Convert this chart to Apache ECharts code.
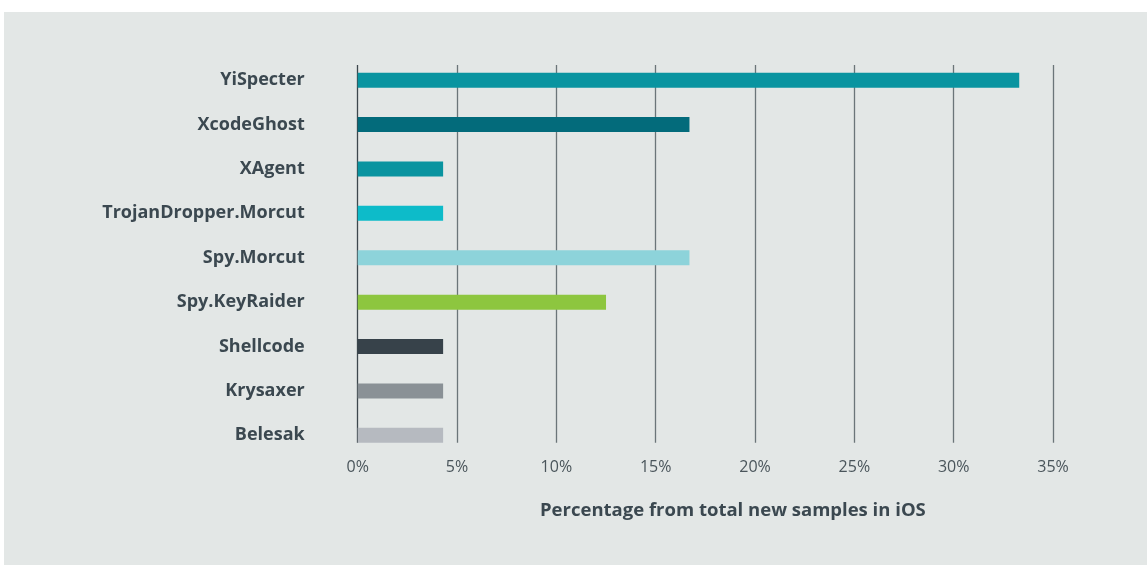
<!DOCTYPE html>
<html>
<head>
<meta charset="utf-8">
<script src="https://cdn.jsdelivr.net/npm/echarts@6/dist/echarts.min.js"></script>
<style>
html,body{margin:0;padding:0;background:#fff;}
#chart{width:1147px;height:565px;}
</style>
</head>
<body>
<div id="chart"></div>
<script>
const categories = ['YiSpecter','XcodeGhost','XAgent','TrojanDropper.Morcut','Spy.Morcut','Spy.KeyRaider','Shellcode','Krysaxer','Belesak'];
const values = [33.3, 16.7, 4.3, 4.3, 16.7, 12.5, 4.3, 4.3, 4.3];
const barColors = ['#0a94a0','#036b7b','#0a94a0','#0dbbc9','#8dd3da','#8dc63f','#37424a','#8a9196','#b6bac0'];
const tickLabels = ['0%','5%','10%','15%','20%','25%','30%','35%'];
const axisTitle = 'Percentage from total new samples in iOS';

const chart = echarts.init(document.getElementById('chart'));
const txt = '#3b4850';
chart.setOption({
  backgroundColor: '#ffffff',
  animation: false,
  graphic: [{type:'rect', z:-10, silent:true, shape:{x:4,y:12,width:1143,height:553}, style:{fill:'#e3e7e6'}}],
  title: {
    text: axisTitle, left: 535, top: 496,
    textStyle: {fontFamily:'Open Sans', fontSize:18.5, fontWeight:'bold', color: txt}
  },
  grid: [
    {left: 357.7, right: 94, top: 58, bottom: 107.5},
    {left: 357.7, right: 94, top: 65, bottom: 122.3}
  ],
  xAxis: [
    {gridIndex:0, type:'value', min:0, max:35, interval:5, show:false},
    {gridIndex:1, type:'value', min:0, max:35, interval:5,
      axisLine:{show:false}, axisTick:{show:false},
      splitLine:{show:true, lineStyle:{width:1.3, color:['#3d474d','#6b7579','#6b7579','#6b7579','#6b7579','#6b7579','#6b7579','#6b7579']}},
      axisLabel:{margin:17, fontFamily:'Open Sans', fontSize:16, color:'#4a555b',
        formatter: function(v){ return tickLabels[Math.round(v/5)]; }}
    }
  ],
  yAxis: [
    {gridIndex:0, type:'category', data:categories, inverse:true,
      axisLine:{show:false}, axisTick:{show:false}, splitLine:{show:false},
      axisLabel:{margin:53, fontFamily:'Open Sans', fontSize:18, fontWeight:'bold', color: txt}},
    {gridIndex:1, type:'value', show:false}
  ],
  series: [{
    type:'bar', xAxisIndex:0, yAxisIndex:0, barWidth:15, z:1,
    data: values.map((v,i)=>({value:v, itemStyle:{color:barColors[i]}}))
  }]
});
</script>
</body>
</html>
